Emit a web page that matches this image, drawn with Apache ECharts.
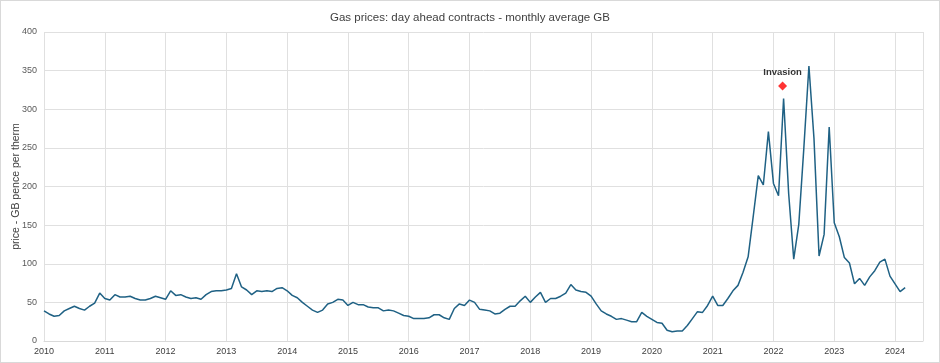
<!DOCTYPE html>
<html>
<head>
<meta charset="utf-8">
<script src="https://cdn.jsdelivr.net/npm/echarts@6/dist/echarts.min.js"></script>
<style>
html,body{margin:0;padding:0;background:#fff;}
#c{width:940px;height:363px;box-sizing:border-box;border:1px solid #d9d9d9;}
</style>
</head>
<body>
<div id="c"></div>
<script>
// Monthly average GB day-ahead gas price (pence per therm), Jan 2010 .. Mar 2024
const startYear = 2010;
const prices = [
  39, 35, 32, 33, 39, 42, 45, 42, 40, 45, 49, 62,   // 2010
  55, 53, 60, 57, 57, 58, 55, 53, 53, 55, 58, 56,   // 2011
  54, 65, 59, 60, 57, 55, 56, 54, 60, 64, 65, 65,   // 2012
  66, 68, 87, 70, 66, 60, 65, 64, 65, 64, 68, 69,   // 2013
  65, 59, 56, 50, 45, 40, 37, 40, 48, 50, 54, 53,   // 2014
  46, 50, 47, 47, 44, 43, 43, 39, 40, 39, 36, 33,   // 2015
  32, 29, 29, 29, 30, 34, 34, 30, 28, 42, 48, 46,   // 2016
  53, 50, 41, 40, 39, 35, 36, 41, 45, 45, 52, 58,   // 2017
  50, 57, 63, 50, 55, 55, 58, 62, 73, 66, 64, 63,   // 2018
  58, 48, 39, 35, 32, 28, 29, 27, 25, 25, 37, 32,   // 2019
  28, 24, 23, 14, 12, 13, 13, 20, 29, 38, 37, 46,   // 2020
  58, 46, 46, 55, 65, 72, 89, 109, 161, 214, 202, 271, // 2021
  204, 188, 314, 191, 106, 151, 250, 356, 262, 110, 138, 277, // 2022
  153, 135, 108, 101, 74, 81, 72, 83, 91, 102, 106, 84, // 2023
  74, 64, 69                                         // 2024
];
const yearTicks = [2010,2011,2012,2013,2014,2015,2016,2017,2018,2019,2020,2021,2022,2023,2024];
const axisEnd = 2024.46;
const invasionLabel = 'Invasion';
const invasionX = 2022.15;
const invasionValue = 330;

const lineData = prices.map((v, i) => [startYear + i / 12, v]);

const chart = echarts.init(document.getElementById('c'));
chart.setOption({
  animation: false,
  title: {
    text: 'Gas prices: day ahead contracts - monthly average GB',
    left: 'center', top: 6,
    textStyle: {fontFamily: 'Liberation Sans, Arial, sans-serif', fontSize: 11.5, fontWeight: 'normal', color: '#404040'}
  },
  grid: {left: 43, right: 16, top: 31, bottom: 21, containLabel: false, outerBoundsMode: 'none'},
  xAxis: {
    type: 'value', min: yearTicks[0], max: axisEnd, interval: 1,
    axisLine: {show: true, lineStyle: {color: '#d9d9d9'}},
    axisTick: {show: false},
    splitLine: {show: true, lineStyle: {color: '#e0e0e0'}},
    axisLabel: {
      showMaxLabel: false,
      fontFamily: 'Liberation Sans', fontSize: 9, color: '#404040', margin: 6,
      formatter: v => yearTicks.indexOf(Math.round(v)) >= 0 ? String(Math.round(v)) : ''
    }
  },
  yAxis: {
    type: 'value', min: 0, max: 400, interval: 50,
    name: 'price - GB pence per therm', nameLocation: 'middle', nameGap: 22,
    nameMoveOverlap: false,
    nameTextStyle: {fontFamily: 'Liberation Sans', fontSize: 10.5, color: '#404040'},
    axisLine: {show: false}, axisTick: {show: false},
    splitLine: {lineStyle: {color: '#e0e0e0'}},
    axisLabel: {fontFamily: 'Liberation Sans', fontSize: 9, color: '#595959', margin: 7}
  },
  series: [
    {
      type: 'line', data: lineData, showSymbol: false, symbol: 'none',
      lineStyle: {color: '#1f6184', width: 1.5}, z: 3
    },
    {
      type: 'scatter', data: [[invasionX, invasionValue]],
      symbol: 'diamond', symbolSize: 9,
      itemStyle: {color: '#ff0000'},
      label: {show: true, position: 'top', distance: 4, formatter: invasionLabel,
        fontFamily: 'Liberation Sans', fontWeight: 'bold', fontSize: 9.5, color: '#000'},
      z: 4
    }
  ]
});
</script>
</body>
</html>
